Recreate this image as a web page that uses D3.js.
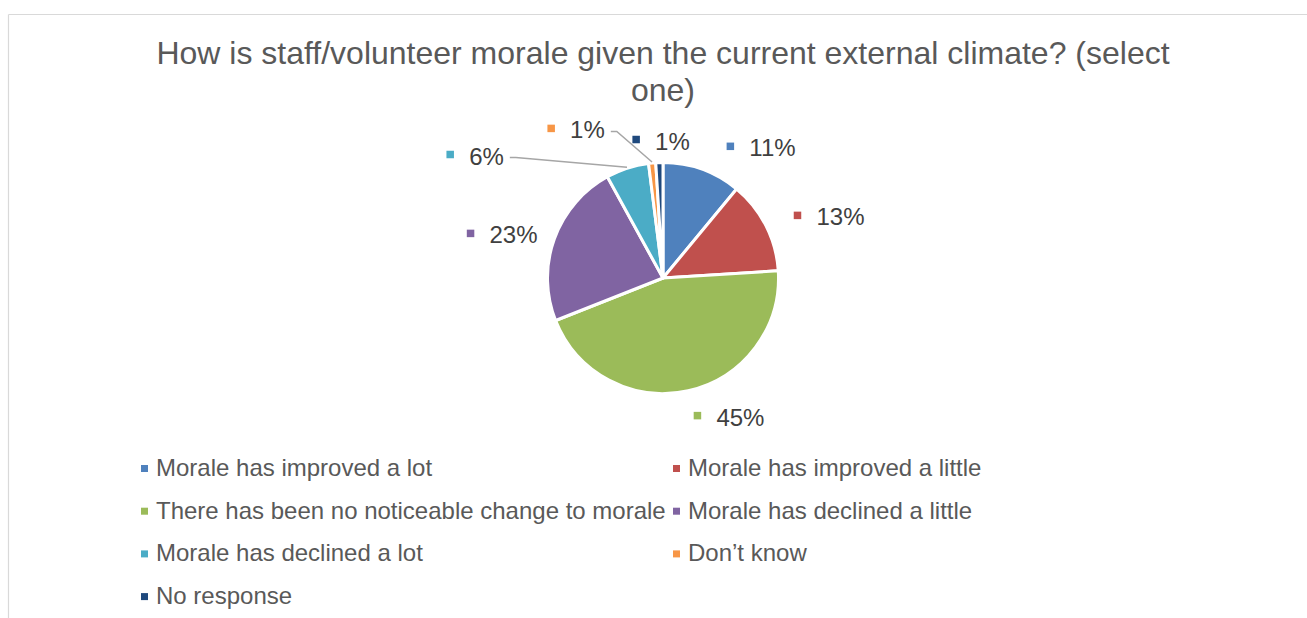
<!DOCTYPE html>
<html>
<head>
<meta charset="utf-8">
<script src="https://cdn.jsdelivr.net/npm/d3@7/dist/d3.min.js"></script>
<style>
  html, body { margin: 0; padding: 0; background: #ffffff; }
  svg { display: block; font-family: "Liberation Sans", Arial, sans-serif; }
</style>
</head>
<body>
<svg id="chart" width="1307" height="618"></svg>
<script>
// Survey answers, in slice order (clockwise from 12 o'clock)
const categories = [
  "Morale has improved a lot",
  "Morale has improved a little",
  "There has been no noticeable change to morale",
  "Morale has declined a little",
  "Morale has declined a lot",
  "Don\u2019t know",
  "No response"
];
const shares = [11, 13, 45, 23, 6, 1, 1];
const valueLabels = ["11%", "13%", "45%", "23%", "6%", "1%", "1%"];
const colors = ["#4F81BD", "#C0504D", "#9BBB59", "#8064A2", "#4BACC6", "#F79646", "#1F497D"];
const titleLines = [
  "How is staff/volunteer morale given the current external climate? (select",
  "one)"
];

// Where each value label sits: polar angle (deg, clockwise from north) and distance from centre
const labelAngle = [37, 69.8, 154.6, 285, 303, 329.6, 359.2];
const labelDist = [163, 177, 154, 166.5, 224, 171.7, 137];
// Slices whose label is tied back with a leader line
const withLeader = [false, false, false, false, true, true, false];

const W = 1307, H = 618;
const cx = 663, cy = 278, R = 115.5;
const textColor = "#595959";
const labelColor = "#404040";

const svg = d3.select("#chart");

// Chart area frame (light grey, open on right/bottom edges of the window)
svg.append("line").attr("x1", 8.5).attr("y1", 14.5).attr("x2", W).attr("y2", 14.5)
  .attr("stroke", "#d9d9d9").attr("stroke-width", 1.2);
svg.append("line").attr("x1", 8.5).attr("y1", 14.5).attr("x2", 8.5).attr("y2", H)
  .attr("stroke", "#d9d9d9").attr("stroke-width", 1.2);

// Title
const title = svg.append("text")
  .attr("text-anchor", "middle")
  .attr("fill", textColor)
  .style("font-size", "32px");
titleLines.forEach((t, i) => {
  title.append("tspan").attr("x", cx).attr("y", 64 + i * 37).text(t);
});

// Pie
const data = categories.map((c, i) => ({ name: c, value: shares[i], label: valueLabels[i], color: colors[i], i }));
const pie = d3.pie().value(d => d.value).sort(null);
const arcs = pie(data);
const arc = d3.arc().innerRadius(0).outerRadius(R);
const edgeArc = d3.arc().innerRadius(R + 1).outerRadius(R + 1);

const g = svg.append("g").attr("transform", `translate(${cx},${cy})`);
g.selectAll("path.slice")
  .data(arcs)
  .join("path")
  .attr("class", "slice")
  .attr("d", arc)
  .attr("fill", d => d.data.color)
  .attr("stroke", "#ffffff")
  .attr("stroke-width", 3)
  .attr("stroke-linejoin", "round");

// Value labels: small colour key + percentage
const fontSize = 24;
const markerSize = 7.5;
const markerGap = 22.7;   // marker left edge to text start
const measure = svg.append("text").style("font-size", fontSize + "px").attr("visibility", "hidden");

arcs.forEach((a, i) => {
  const ang = labelAngle[i] * Math.PI / 180;
  const bx = cx + labelDist[i] * Math.sin(ang);
  const by = cy - labelDist[i] * Math.cos(ang);
  measure.text(a.data.label);
  const tw = measure.node().getComputedTextLength();
  const blockW = markerGap + tw;
  const left = bx - blockW / 2;
  const baseline = by + 8.5;

  svg.append("rect")
    .attr("x", left).attr("y", baseline - 10 - markerSize / 2)
    .attr("width", markerSize).attr("height", markerSize)
    .attr("fill", a.data.color);
  svg.append("text")
    .attr("x", left + markerGap).attr("y", baseline)
    .attr("fill", labelColor)
    .style("font-size", fontSize + "px")
    .text(a.data.label);

  if (withLeader[i]) {
    const [ex, ey] = edgeArc.centroid(a);
    const sx = left + blockW + 6;
    const sy = baseline - 7;
    svg.append("polyline")
      .attr("points", [[sx, sy], [sx + 6, sy], [cx + ex, cy + ey]].map(p => p.join(",")).join(" "))
      .attr("fill", "none")
      .attr("stroke", "#a6a6a6")
      .attr("stroke-width", 1.5);
  }
});
measure.remove();

// Legend: two columns, filled row by row
const legendCols = [141, 673];
const legendRow0 = 476, legendStep = 42.7;
const legend = svg.append("g");
data.forEach((d, i) => {
  const col = i % 2, row = Math.floor(i / 2);
  const x = legendCols[col], y = legendRow0 + row * legendStep;
  legend.append("rect")
    .attr("x", x).attr("y", y - 11)
    .attr("width", 7).attr("height", 7)
    .attr("fill", d.color);
  legend.append("text")
    .attr("x", x + 15).attr("y", y)
    .attr("fill", textColor)
    .style("font-size", "24px")
    .text(d.name);
});
</script>
</body>
</html>
